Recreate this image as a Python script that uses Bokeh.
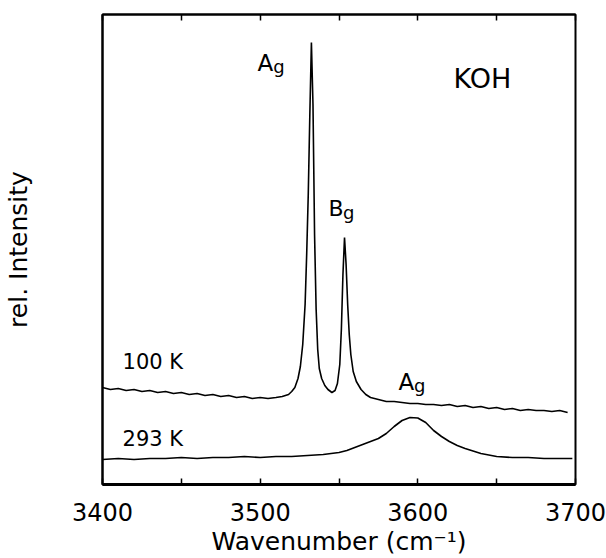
from bokeh.plotting import figure
from bokeh.models import Range1d, FixedTicker, LinearAxis, ColumnDataSource, Title
from bokeh.core.properties import value
from bokeh.embed import file_html
from bokeh.resources import INLINE

# ---- data (wavenumber in cm-1, relative intensity, arb. units) ----
wn_100 = [3400, 3405, 3410, 3415, 3420, 3425, 3430, 3435, 3440, 3445, 3450, 3455, 3460, 3465,
          3470, 3475, 3480, 3485, 3490, 3495, 3500, 3505, 3510, 3514, 3518, 3520, 3522, 3524,
          3525.5, 3527, 3528.5, 3529.5, 3530.5, 3531.5, 3532.5, 3533.5, 3534.5, 3535.5, 3536.5,
          3537.5, 3539, 3541, 3543, 3545.5, 3547.5, 3549, 3550.5, 3551.5, 3552.5, 3553.5, 3554.5,
          3555.5, 3556.5, 3557.5, 3559, 3561, 3564, 3567, 3570, 3575, 3580, 3585, 3590, 3595,
          3600, 3605, 3610, 3615, 3620, 3625, 3630, 3635, 3640, 3645, 3650, 3655, 3660, 3665,
          3670, 3675, 3680, 3685, 3690, 3695]
int_100 = [97, 95, 96, 94, 95, 93, 94, 92, 93, 91, 92, 90, 91, 89,
           90, 88, 89, 87, 88, 86, 87, 86, 87, 88, 90, 93, 97, 106,
           118, 140, 180, 230, 290, 370, 442, 380, 250, 175, 135,
           116, 106, 99, 95, 92, 94, 101, 120, 155, 210, 247, 220,
           180, 150, 130, 113, 103, 95, 90, 87, 85, 83, 83, 82, 81,
           81, 80, 80, 79, 80, 78, 79, 77, 78, 76, 77, 75, 76, 74,
           75, 74, 74, 73, 74, 72]

wn_293 = [3400, 3410, 3420, 3430, 3440, 3450, 3460, 3470, 3480, 3490, 3500, 3510, 3520, 3530,
          3540, 3550, 3555, 3560, 3565, 3570, 3575, 3580, 3585, 3590, 3595, 3600, 3605, 3610,
          3615, 3620, 3625, 3630, 3640, 3650, 3660, 3670, 3680, 3690, 3698]
int_293 = [25, 26, 25, 26, 26, 27, 26, 27, 27, 28, 27, 28, 28, 29,
           30, 32, 34, 37, 40, 43, 46, 51, 58, 64, 67, 66.5, 62, 54,
           48, 43, 39, 36, 31, 28, 27, 27, 26, 26, 26]

x_ticks = [3400, 3500, 3600, 3700]
x_minor = [3450, 3550, 3650]

FONT = "DejaVu Sans"

p = figure(width=606, height=558, output_backend="svg", toolbar_location=None,
           x_range=Range1d(3400, 3700), y_range=Range1d(0, 470),
           min_border_left=102, min_border_right=31, min_border_top=14, min_border_bottom=74)
p.grid.visible = False
p.background_fill_color = "white"
p.border_fill_color = "white"
p.outline_line_color = "black"
p.outline_line_width = 2

src100 = ColumnDataSource(dict(x=wn_100, y=int_100))
src293 = ColumnDataSource(dict(x=wn_293, y=int_293))
p.line("x", "y", source=src100, line_color="black", line_width=1.6)
p.line("x", "y", source=src293, line_color="black", line_width=1.6)

# bottom axis
xa = p.xaxis[0]
xa.ticker = FixedTicker(ticks=x_ticks, minor_ticks=x_minor)
xa.major_tick_in = 6
xa.major_tick_out = 0
xa.minor_tick_in = 6
xa.minor_tick_out = 0
xa.axis_line_width = 3
xa.major_tick_line_width = 1.5
xa.minor_tick_line_width = 1.5
xa.major_label_text_font = FONT
xa.major_label_text_font_size = "24px"
xa.major_label_text_color = "black"
xa.major_label_standoff = 18

# x axis title as a panel below the axis
p.add_layout(Title(text="Wavenumber (cm\u207b\u00b9)", align="center", text_font=FONT,
                   text_font_size="25px", text_font_style="normal", text_color="black",
                   standoff=3, offset=-10), "below")

# top axis: inward ticks only
ta = LinearAxis(ticker=FixedTicker(ticks=x_ticks, minor_ticks=x_minor))
ta.major_label_overrides = {t: "" for t in x_ticks}
ta.major_label_text_font_size = "1px"
ta.major_label_standoff = 0
ta.major_tick_in = 6
ta.major_tick_out = 0
ta.minor_tick_in = 6
ta.minor_tick_out = 0
ta.axis_line_width = 2
ta.major_tick_line_width = 1.5
ta.minor_tick_line_width = 1.5
p.add_layout(ta, "above")

# left axis: label only
ya = p.yaxis[0]
ya.ticker = FixedTicker(ticks=[])
ya.major_tick_in = 0
ya.major_tick_out = 0
ya.minor_tick_in = 0
ya.minor_tick_out = 0
ya.axis_line_width = 2
ya.axis_label = "rel. Intensity"
ya.axis_label_text_font = FONT
ya.axis_label_text_font_size = "25px"
ya.axis_label_text_font_style = "normal"
ya.axis_label_text_color = "black"
ya.axis_label_standoff = 70

# annotations
def label(x, y, t, size):
    p.text(x=[x], y=[y], text=[t], text_font=value(FONT), text_font_size=size,
           text_color="black", text_align="left", text_baseline="alphabetic")

label(3498.3, 422, "A", "23px")
label(3508.3, 418, "g", "18px")
label(3543.3, 276, "B", "22px")
label(3552.6, 272, "g", "18px")
label(3587.7, 103, "A", "23px")
label(3597.5, 99, "g", "18px")
label(3622.6, 406, "KOH", "27px")
label(3412.7, 123, "100 K", "21px")
label(3412.7, 46, "293 K", "21px")

open("out.html", "w").write(file_html(p, INLINE))
